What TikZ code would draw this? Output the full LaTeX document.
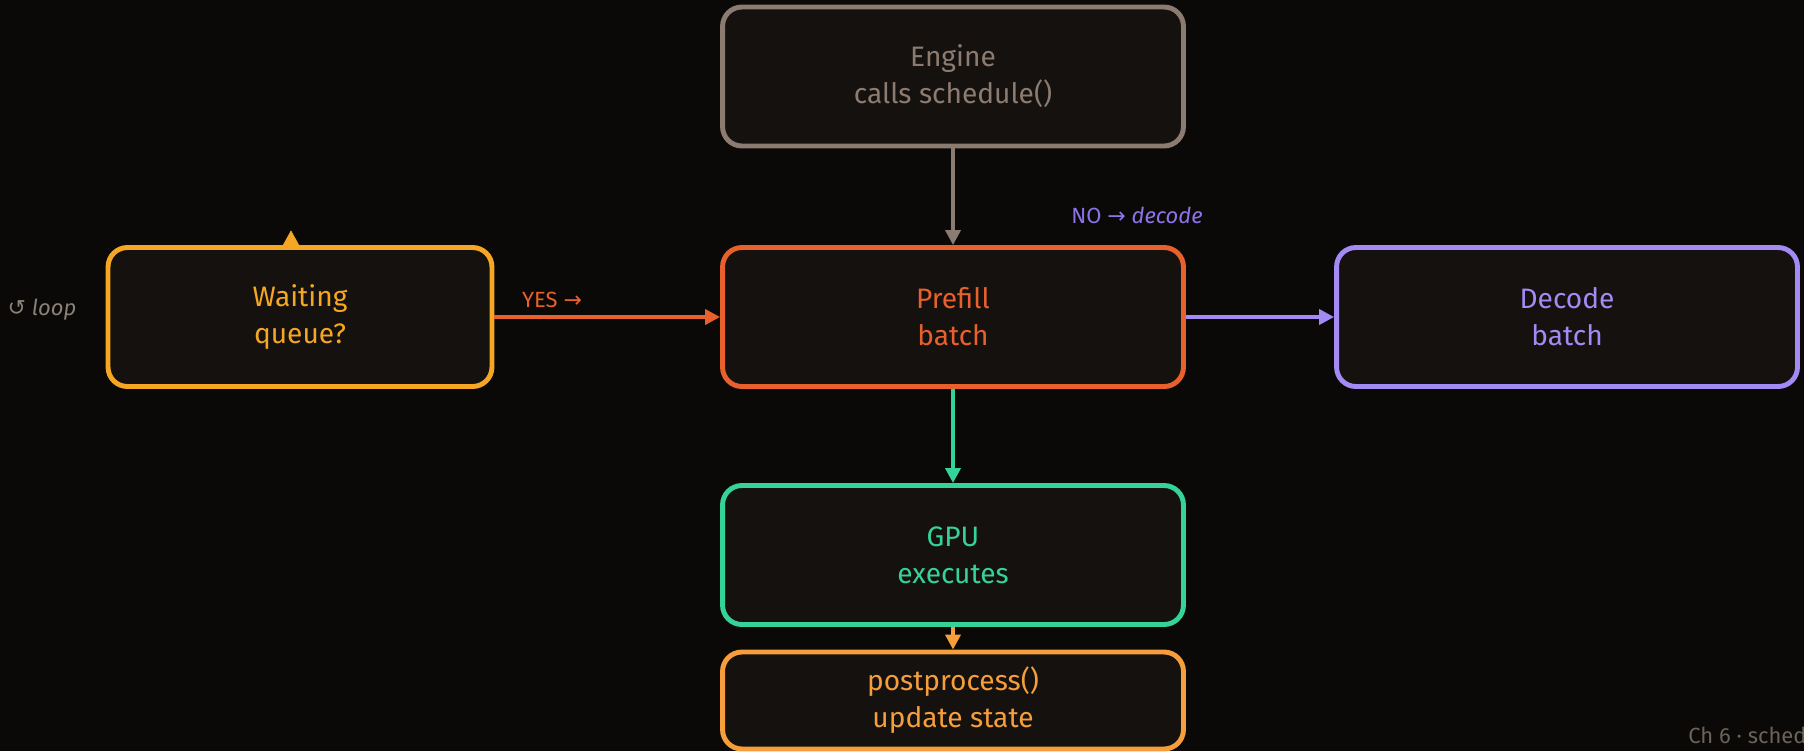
\documentclass[tikz,border=0pt]{standalone}
\usepackage{fontspec}
\setmainfont{Fira Sans}
\newfontfamily\symfont{DejaVu Sans}
\usetikzlibrary{arrows.meta}

\definecolor{bgc}{HTML}{0B0907}
\definecolor{boxc}{HTML}{15110E}
\definecolor{enginec}{HTML}{8C7B70}
\definecolor{waitc}{HTML}{F5A623}
\definecolor{prefillc}{HTML}{E8602C}
\definecolor{decodec}{HTML}{A48AF5}
\definecolor{nolabc}{HTML}{8B74E8}
\definecolor{gpuc}{HTML}{34D399}
\definecolor{postc}{HTML}{F59E3B}
\definecolor{loopc}{HTML}{8A8178}
\definecolor{footc}{HTML}{6B625A}

\begin{document}
\begin{tikzpicture}[x=0.02cm, y=-0.02cm,
  box/.style={draw=#1, text=#1, fill=boxc, line width=2.8pt, rounded corners=11pt,
    minimum width=9.22cm, minimum height=2.78cm, align=center,
    font=\fontsize{16}{21}\selectfont},
  arr/.style={draw=#1, line width=2.3pt, -{Triangle[length=8.5pt,width=8.5pt]}},
  lab/.style={text=#1, font=\fontsize{12.5}{15}\selectfont, inner sep=0pt}]

  % Sfondo
  \fill[bgc] (0,0) rectangle (1804,751);
  \useasboundingbox (0,0) rectangle (1804,751);

  % Nodi
  \node[box=enginec] (engine) at (953,76.5) {Engine\\calls schedule()};
  \node[box=waitc, minimum width=7.68cm] (wait) at (300,317) {Waiting\\queue?};
  \node[box=prefillc] (prefill) at (953,317) {Prefill\\batch};
  \node[box=decodec] (decode) at (1567,317) {Decode\\batch};
  \node[box=gpuc] (gpu) at (953,555) {GPU\\executes};
  \node[box=postc, minimum height=1.94cm] (post) at (953,700.5) {postprocess()\\update state};

  % Archi
  \draw[arr=enginec] (engine) -- (prefill);
  \draw[arr=prefillc] (wait) -- (prefill);
  \draw[arr=decodec] (prefill) -- (decode);
  \draw[arr=gpuc] (prefill) -- (gpu);
  \draw[arr=postc] (gpu) -- (post);
  \coordinate (looptip) at (291,230);
  \draw[arr=waitc] (wait.north -| looptip) -- (looptip);

  % Etichette
  \node[lab=prefillc] (yes) at (552,300) {YES {\symfont →}};
  \node[lab=nolabc] (no) at (1137,215) {NO {\symfont →} \textit{decode}};
  \node[lab=loopc] (loop) at (42,310) {{\symfont ↺} \textit{loop}};
  \node[lab=footc, anchor=west] (foot) at (1688,735) {Ch 6 · sched};
\end{tikzpicture}
\end{document}
